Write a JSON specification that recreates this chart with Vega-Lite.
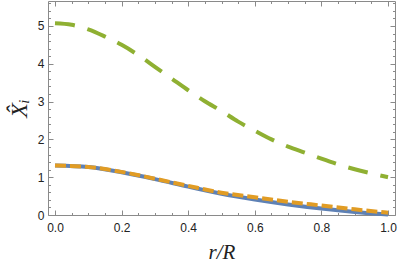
{
  "$schema": "https://vega.github.io/schema/vega-lite/v6.json",
  "width": 347,
  "height": 214,
  "autosize": {"type": "none"},
  "padding": {"left": 48, "top": 1, "right": 4, "bottom": 53},
  "background": "white",
  "config": {
    "view": {"stroke": "#8a8a8a", "strokeWidth": 1},
    "axis": {"grid": false, "domain": false, "tickColor": "#8a8a8a", "tickWidth": 1, "labelFont": "Liberation Sans", "labelFontSize": 12, "labelColor": "#222", "titleFont": "Liberation Serif", "titleFontStyle": "italic", "titleFontWeight": "normal", "titleFontSize": 21, "titleColor": "#222"}
  },
  "datasets": {
    "blue": [
      {"r": 0.0, "v": 1.31}, {"r": 0.1, "v": 1.27}, {"r": 0.2, "v": 1.13}, {"r": 0.3, "v": 0.95},
      {"r": 0.4, "v": 0.75}, {"r": 0.5, "v": 0.56}, {"r": 0.6, "v": 0.41}, {"r": 0.7, "v": 0.28},
      {"r": 0.8, "v": 0.17}, {"r": 0.9, "v": 0.08}, {"r": 1.0, "v": 0.01}
    ],
    "orange": [
      {"r": 0.0, "v": 1.31}, {"r": 0.1, "v": 1.27}, {"r": 0.2, "v": 1.14}, {"r": 0.3, "v": 0.96},
      {"r": 0.4, "v": 0.77}, {"r": 0.5, "v": 0.59}, {"r": 0.6, "v": 0.47}, {"r": 0.7, "v": 0.35},
      {"r": 0.8, "v": 0.25}, {"r": 0.9, "v": 0.15}, {"r": 1.0, "v": 0.06}
    ],
    "green": [
      {"r": 0.0, "v": 5.07}, {"r": 0.05, "v": 5.03}, {"r": 0.1, "v": 4.91}, {"r": 0.15, "v": 4.72},
      {"r": 0.2, "v": 4.5}, {"r": 0.25, "v": 4.23}, {"r": 0.3, "v": 3.92}, {"r": 0.35, "v": 3.61},
      {"r": 0.4, "v": 3.3}, {"r": 0.45, "v": 3.01}, {"r": 0.5, "v": 2.75}, {"r": 0.55, "v": 2.47},
      {"r": 0.6, "v": 2.23}, {"r": 0.65, "v": 2.0}, {"r": 0.7, "v": 1.81}, {"r": 0.75, "v": 1.65},
      {"r": 0.8, "v": 1.49}, {"r": 0.85, "v": 1.34}, {"r": 0.9, "v": 1.21}, {"r": 0.95, "v": 1.1},
      {"r": 1.0, "v": 1.0}
    ]
  },
  "layer": [
    {
      "data": {"name": "blue"},
      "mark": {"type": "line", "color": "#5E81B5", "strokeWidth": 4, "interpolate": "monotone"},
      "encoding": {
        "x": {"field": "r", "type": "quantitative", "scale": {"domain": [-0.021, 1.021], "nice": false, "zero": false},
              "axis": {"orient": "bottom", "values": [0, 0.2, 0.4, 0.6, 0.8, 1.0], "format": ".1f", "tickSize": -5, "labelPadding": 12, "title": "r/R", "titlePadding": 8}},
        "y": {"field": "v", "type": "quantitative", "scale": {"domain": [0, 5.66], "nice": false},
              "axis": {"orient": "left", "values": [0, 1, 2, 3, 4, 5], "format": "d", "tickSize": -5, "labelPadding": 9, "title": "X̂ᵢ", "titleFontSize": 24, "titlePadding": 6}}
      }
    },
    {
      "data": {"name": "orange"},
      "mark": {"type": "line", "color": "#E19C24", "strokeWidth": 4, "strokeDash": [11, 4], "interpolate": "monotone"},
      "encoding": {
        "x": {"field": "r", "type": "quantitative",
              "axis": {"orient": "bottom", "values": [0.05, 0.1, 0.15, 0.25, 0.3, 0.35, 0.45, 0.5, 0.55, 0.65, 0.7, 0.75, 0.85, 0.9, 0.95], "labels": false, "tickSize": -2.5, "title": null}},
        "y": {"field": "v", "type": "quantitative",
              "axis": {"orient": "left", "values": [0.2, 0.4, 0.6, 0.8, 1.2, 1.4, 1.6, 1.8, 2.2, 2.4, 2.6, 2.8, 3.2, 3.4, 3.6, 3.8, 4.2, 4.4, 4.6, 4.8, 5.2, 5.4, 5.6], "labels": false, "tickSize": -2.5, "title": null}}
      }
    },
    {
      "data": {"name": "green"},
      "mark": {"type": "line", "color": "#8FB032", "strokeWidth": 4, "strokeDash": [20, 13], "interpolate": "monotone"},
      "encoding": {
        "x": {"field": "r", "type": "quantitative",
              "axis": {"orient": "top", "values": [0, 0.2, 0.4, 0.6, 0.8, 1.0], "labels": false, "tickSize": -5, "title": null}},
        "y": {"field": "v", "type": "quantitative",
              "axis": {"orient": "right", "values": [0, 1, 2, 3, 4, 5], "labels": false, "tickSize": -5, "title": null}}
      }
    },
    {
      "data": {"name": "green"},
      "mark": {"type": "point", "opacity": 0},
      "encoding": {
        "x": {"field": "r", "type": "quantitative",
              "axis": {"orient": "top", "values": [0.05, 0.1, 0.15, 0.25, 0.3, 0.35, 0.45, 0.5, 0.55, 0.65, 0.7, 0.75, 0.85, 0.9, 0.95], "labels": false, "tickSize": -2.5, "title": null}},
        "y": {"field": "v", "type": "quantitative",
              "axis": {"orient": "right", "values": [0.2, 0.4, 0.6, 0.8, 1.2, 1.4, 1.6, 1.8, 2.2, 2.4, 2.6, 2.8, 3.2, 3.4, 3.6, 3.8, 4.2, 4.4, 4.6, 4.8, 5.2, 5.4, 5.6], "labels": false, "tickSize": -2.5, "title": null}}
      }
    }
  ],
  "resolve": {"axis": {"x": "independent", "y": "independent"}}
}
